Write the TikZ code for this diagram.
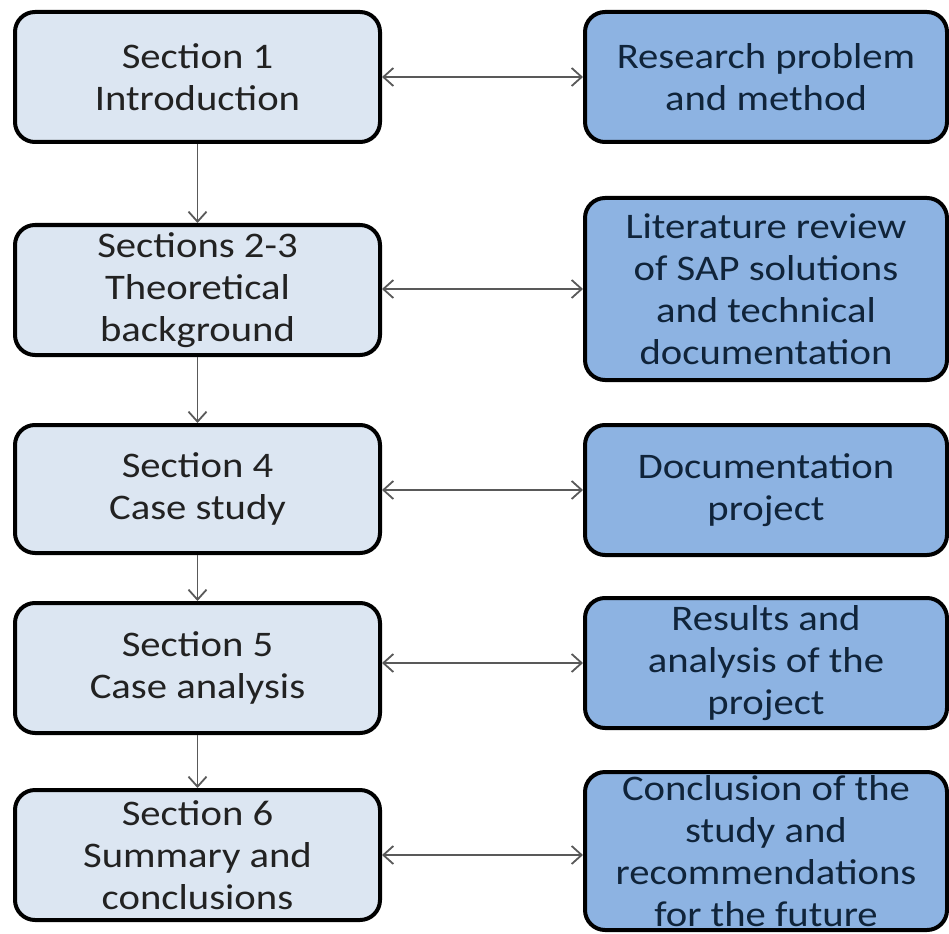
\documentclass[tikz,border=0pt]{standalone}
\usepackage{fontspec}
\setmainfont{Carlito}[FakeStretch=1.13]
\usetikzlibrary{arrows.meta}
\definecolor{secfill}{HTML}{DCE6F2}
\definecolor{topicfill}{HTML}{8DB3E2}
\definecolor{linkgray}{HTML}{595959}
\definecolor{sectext}{HTML}{222222}
\definecolor{topictext}{HTML}{10243A}
\tikzset{
  box/.style={draw=black, line width=4pt, rounded corners=20pt, inner sep=0pt,
    align=center, font=\fontsize{36}{42}\selectfont},
  secbox/.style={box, fill=secfill, text=sectext, minimum width=365pt},
  topicbox/.style={box, fill=topicfill, text=topictext, minimum width=362pt},
  flow/.style={draw=linkgray, line width=1.8pt,
    -{Straight Barb[length=10pt,width=18pt,line width=1.8pt]}},
  link/.style={draw=linkgray, line width=1.8pt,
    {Straight Barb[length=10pt,width=18pt,line width=1.8pt]}-{Straight Barb[length=10pt,width=18pt,line width=1.8pt]}}
}
\begin{document}
\begin{tikzpicture}[x=1pt,y=-1pt]
\useasboundingbox (0,0) rectangle (949,933);

% section boxes (left column)
\node[secbox, minimum height=130pt] (L1) at (197.5,77)  {Section 1\\Introduction};
\node[secbox, minimum height=130pt] (L2) at (197.5,290) {Sections 2-3\\Theoretical\\background};
\node[secbox, minimum height=128pt] (L3) at (197.5,489) {Section 4\\Case study};
\node[secbox, minimum height=130pt] (L4) at (197.5,668) {Section 5\\Case analysis};
\node[secbox, minimum height=130pt] (L5) at (197.5,855) {Section 6\\Summary and\\conclusions};

% topic boxes (right column)
\node[topicbox, minimum height=130pt] (R1) at (766,77)  {Research problem\\and method};
\node[topicbox, minimum height=182pt] (R2) at (766,289) {Literature review\\of SAP solutions\\and technical\\documentation};
\node[topicbox, minimum height=130pt] (R3) at (766,490) {Documentation\\project};
\node[topicbox, minimum height=130pt] (R4) at (766,663) {Results and\\analysis of the\\project};
\node[topicbox, minimum height=158pt] (R5) at (766,851) {Conclusion of the\\study and\\recommendations\\for the future};

% flow between sections
\draw[flow] (L1) -- (L2);
\draw[flow] (L2) -- (L3);
\draw[flow] (L3) -- (L4);
\draw[flow] (L4) -- (L5);

% links between sections and topics
\draw[link] (R1.west -| L1.east) -- (R1.west);
\draw[link] (R2.west -| L2.east) -- (R2.west);
\draw[link] (R3.west -| L3.east) -- (R3.west);
\draw[link] (R4.west -| L4.east) -- (R4.west);
\draw[link] (L5.east) -- (L5.east -| R5.west);
\end{tikzpicture}
\end{document}
